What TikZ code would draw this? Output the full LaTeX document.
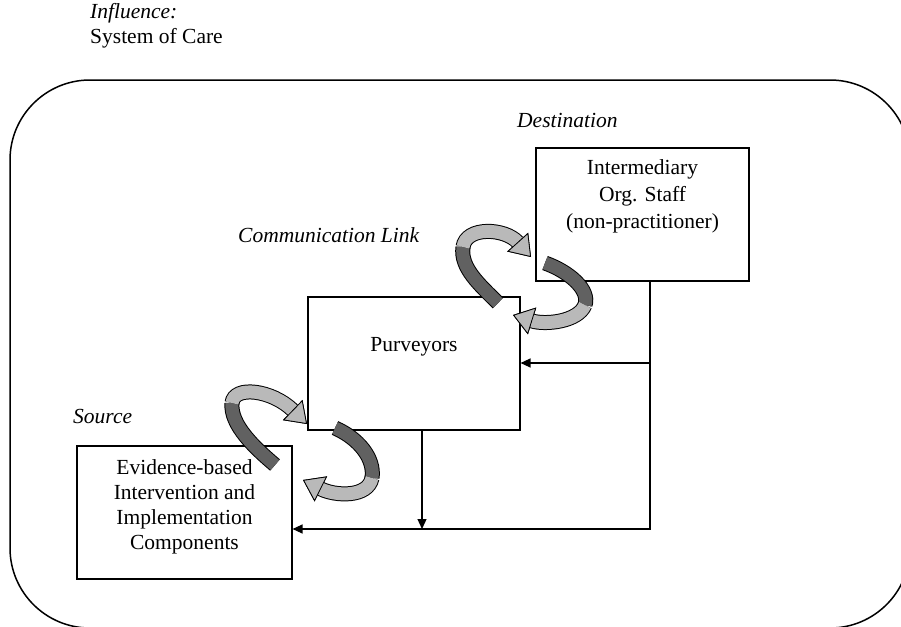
\documentclass[tikz,border=0pt]{standalone}
\usepackage{fontspec}
\setmainfont{Liberation Serif}
\usetikzlibrary{positioning,arrows.meta}

\begin{document}
\begin{tikzpicture}[x=1pt,y=-1pt,>={Triangle[width=9pt,length=10pt]}]
	\tikzset{box/.style={draw,line width=1.1pt,inner sep=0pt,minimum height=133pt},
		boxtext/.style={align=center,inner sep=0pt,font=\fontsize{21.5}{27}\selectfont},
		caption/.style={anchor=west,inner sep=0pt,font=\fontsize{21.5}{25}\selectfont\itshape},
		link/.style={line width=1.2pt},
		ribbon/.style={line width=13pt,draw=gray!55,preaction={draw=black,line width=15pt}},
		ribbonback/.style={line width=13pt,draw=black!62,preaction={draw=black,line width=15pt}},
		ribbontip/.style={-{Triangle[width=28pt,length=20pt,color=black,fill=gray!55,line width=0.8pt]}}}
	\useasboundingbox (0,0) rectangle (901,626);
	\clip (0,0) rectangle (901,626);

	%% frame of the system of care
	\draw[line width=1.5pt,rounded corners=80pt] (10,80) rectangle (910,628);

	\node[caption,align=left] (influence) at (90,26) {Influence:\\\upshape System of Care};
	\node[caption] (destination) at (517,120) {Destination};
	\node[caption] (commlink) at (238,235) {Communication Link};
	\node[caption] (source) at (73,417) {Source};

	%% boxes
	\node[box,minimum width=213pt] (dest) at (642.5,214.5) {};
	\node[box,minimum width=212pt] (purv) at (414,363.5) {};
	\node[box,minimum width=215pt] (src) at (184.5,512.5) {};
	\node[boxtext,below=12pt of dest.north] (destlabel) {Intermediary\\Org. Staff\\(non-practitioner)};
	\node[boxtext,below=41pt of purv.north] (purvlabel) {Purveyors};
	\node[boxtext,font=\fontsize{21.5}{25}\selectfont,below=14pt of src.north] (srclabel)
		{Evidence-based\\Intervention and\\Implementation\\Components};

	%% feedback lines
	\coordinate (fork) at (650,363);
	\coordinate (bend) at (650,529);
	\coordinate (meet) at (422,529);
	\draw[link,->] (dest.south -| fork) -- (bend) -- (src.east |- bend);
	\draw[link,->] (fork) -- (purv.east |- fork);
	\draw[link,->] (purv.south -| meet) -- (meet);

	%% communication links
	\draw[ribbonback] (275,465) .. controls (255,448) and (230,425) .. (232,403);
	\draw[ribbon,ribbontip] (232,403) .. controls (234,385) and (272,390) .. (307,424);
	\draw[ribbonback] (335,428) .. controls (358,438) and (375,458) .. (372,478);
	\draw[ribbon,ribbontip] (372,478) .. controls (368,498) and (335,496) .. (303,480);

	\draw[ribbonback] (498,303) .. controls (480,285) and (460,268) .. (463,247);
	\draw[ribbon,ribbontip] (463,247) .. controls (466,226) and (505,228) .. (531,257);
	\draw[ribbonback] (545,263) .. controls (570,272) and (590,290) .. (585,305);
	\draw[ribbon,ribbontip] (585,305) .. controls (578,322) and (545,325) .. (513,315);
\end{tikzpicture}
\end{document}
